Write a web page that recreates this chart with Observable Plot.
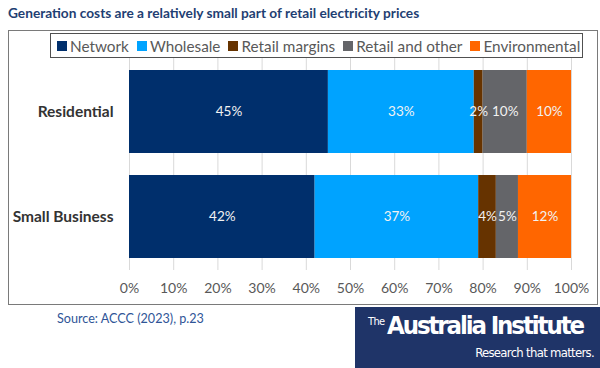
<!DOCTYPE html>
<html><head><meta charset="utf-8">
<script src="https://cdn.jsdelivr.net/npm/d3@7"></script>
<script src="https://cdn.jsdelivr.net/npm/@observablehq/plot@0.6"></script>
<style>
body{margin:0;width:600px;height:368px;position:relative;background:#fff;font-family:Lato,"Open Sans",sans-serif;overflow:hidden}
#title{position:absolute;left:8px;top:4px;font-weight:bold;font-size:13.7px;color:#1F3F73;white-space:nowrap}
#frame{position:absolute;left:8px;top:30px;width:590px;height:275px;border:1.5px solid #7a7a7a;box-sizing:border-box}
#chart{position:absolute;left:8px;top:30px}
#legend{position:absolute;left:50px;top:33px;width:533px;height:25px;border:1.5px solid #505050;box-sizing:border-box;background:#fff;display:flex;align-items:center;padding-left:6px;overflow:hidden;white-space:nowrap;font-size:15.3px;color:#595959}
#legend .it{display:flex;align-items:center;margin-right:8px}
#legend .sw{width:10px;height:10px;margin-right:3px}
#source{position:absolute;left:57px;top:311px;font-size:12.6px;color:#2F5597}
#logo{position:absolute;left:355px;top:307px;width:245px;height:61px;background:#1F3468;color:#fff;font-family:"DejaVu Sans Condensed",sans-serif;white-space:nowrap}
#logo .the{position:absolute;left:13px;top:8px;font-size:11px;letter-spacing:-0.6px}
#logo .ai{position:absolute;left:32px;top:3px;font-size:25.5px;font-weight:bold;letter-spacing:-2.1px}
#logo .rt{position:absolute;right:6px;top:38px;font-size:13px;letter-spacing:-0.7px}
</style></head>
<body>
<div id="title">Generation costs are a relatively small part of retail electricity prices</div>
<div id="frame"></div>
<div id="chart"></div>
<div id="legend"></div>
<div id="source">Source: ACCC (2023), p.23</div>
<div id="logo"><span class="the">The</span><span class="ai">Australia Institute</span><span class="rt">Research that matters.</span></div>
<script>
const categories = ["Residential", "Small Business"];
const components = ["Network", "Wholesale", "Retail margins", "Retail and other", "Environmental"];
const colors = ["#002F6C", "#00A3FF", "#663300", "#646569", "#FF6600"];
const residential = [45, 33, 2, 10, 10];
const smallBusiness = [42, 37, 4, 5, 12];
const xTicks = [0, 10, 20, 30, 40, 50, 60, 70, 80, 90, 100];

const series = [residential, smallBusiness];
const rows = [];
categories.forEach((c, i) => {
  let acc = 0;
  components.forEach((k, j) => {
    const v = series[i][j];
    rows.push({cat: c, comp: k, v, x1: acc, x2: acc + v});
    acc += v;
  });
});

const lg = document.getElementById("legend");
components.forEach((k, j) => {
  const it = document.createElement("div"); it.className = "it";
  it.innerHTML = `<div class="sw" style="background:${colors[j]}"></div><span>${k}</span>`;
  lg.appendChild(it);
});

const chart = Plot.plot({
  width: 590, height: 275,
  marginLeft: 121, marginRight: 27, marginTop: 28, marginBottom: 35,
  style: {fontFamily: "Lato, 'Open Sans', sans-serif", background: "transparent"},
  x: {domain: [0, 100]},
  y: {domain: categories, paddingInner: 0.21, paddingOuter: 0.11},
  color: {domain: components, range: colors},
  marks: [
    Plot.ruleX(xTicks, {stroke: "#d9d9d9", strokeWidth: 1}),
    Plot.barX(rows, {x1: "x1", x2: "x2", y: "cat", fill: "comp"}),
    Plot.text(rows, {x: d => (d.x1 + d.x2) / 2, y: "cat", text: d => d.v + "%", fill: "#f2f2f2", fontSize: 13.5}),
    Plot.axisX(xTicks, {tickSize: 0, tickPadding: 13, tickFormat: d => d + "%", fontSize: 14, fill: "#595959", label: null}),
    Plot.axisY({tickSize: 0, tickPadding: 16, fontSize: 15.5, fontWeight: "bold", fill: "#333", label: null})
  ]
});
document.getElementById("chart").appendChild(chart);
</script>
</body></html>
